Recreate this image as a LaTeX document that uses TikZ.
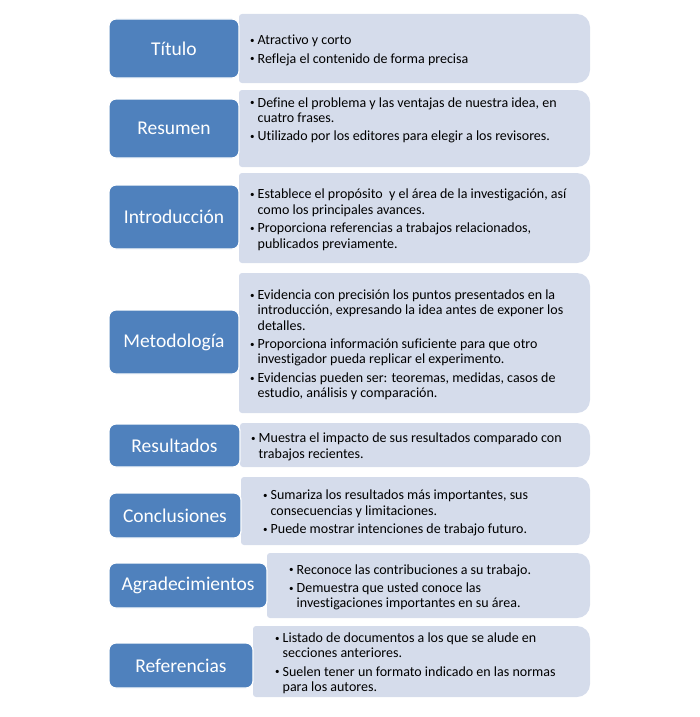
\documentclass[tikz,border=0pt]{standalone}
\usepackage{fontspec}
\setmainfont{Carlito}[Ligatures=NoCommon]
\usetikzlibrary{positioning}
\definecolor{lblblue}{HTML}{4F81BD}
\definecolor{liteblue}{HTML}{D5DCEB}
\newcommand{\bx}{\begin{tabular}{@{}l@{\hspace{3pt}}l@{}}}
\newcommand{\ex}{\end{tabular}}
\newcommand{\bul}{\raisebox{0.2ex}{\fontsize{9}{9}\selectfont\textbullet}}

\begin{document}
\begin{tikzpicture}[x=1pt, y=-1pt,
    lbl/.style={fill=lblblue, draw=white, line width=1.2pt, rounded corners=7pt,
      text=white, font=\fontsize{19.5}{22}\selectfont, inner sep=0pt, minimum width=130pt},
    lite/.style={fill=liteblue},
    txt/.style={anchor=west, inner sep=0pt, align=left, yshift=-2.5pt,
      font=\fontsize{14}{15.4}\selectfont}
  ]
  \useasboundingbox (0,0) rectangle (700,717);

  % Titulo
  \path[lite] (239,83) [rounded corners=3pt] -- (239,14) [rounded corners=13pt] -- (590,14) -- (590,83) [rounded corners=3pt] -- cycle;
  \node[lbl, minimum height=59pt] (tit) at (174,48.5) {Título};
  \node[txt] (titx) at (250,48.5) {\bx
    \bul & Atractivo y corto\\[3pt]
    \bul & Refleja el contenido de forma precisa\ex};

  % Resumen
  \path[lite] (239,167) [rounded corners=3pt] -- (239,90) [rounded corners=13pt] -- (590,90) -- (590,167) [rounded corners=3pt] -- cycle;
  \node[lbl, minimum height=59pt] (res) at (174,128.5) {Resumen};
  \node[txt] (resx) at (250,118.5) {\bx
    \bul & Define el problema y las ventajas de nuestra idea, en\\
    & cuatro frases.\\[3pt]
    \bul & Utilizado por los editores para elegir a los revisores.\ex};

  % Introduccion
  \path[lite] (239,263) [rounded corners=3pt] -- (239,173) [rounded corners=13pt] -- (590,173) -- (590,263) [rounded corners=3pt] -- cycle;
  \node[lbl, minimum height=64pt] (intro) at (174,217) {Introducción};
  \node[txt] (introx) at (250,218) {\bx
    \bul & Establece el propósito\ \ y el área de la investigación, así\\
    & como los principales avances.\\[3pt]
    \bul & Proporciona referencias a trabajos relacionados,\\
    & publicados previamente.\ex};

  % Metodologia
  \path[lite] (239,413) [rounded corners=3pt] -- (239,273) [rounded corners=13pt] -- (590,273) -- (590,413) [rounded corners=3pt] -- cycle;
  \node[lbl, minimum height=64pt] (met) at (174,342) {Metodología};
  \node[txt] (metx) at (250,343) {\bx
    \bul & Evidencia con precisión los puntos presentados en la\\
    & introducción, expresando la idea antes de exponer los\\
    & detalles.\\[3pt]
    \bul & Proporciona información suficiente para que otro\\
    & investigador pueda replicar el experimento.\\[3pt]
    \bul & Evidencias pueden ser: teoremas, medidas, casos de\\
    & estudio, análisis y comparación.\ex};

  % Resultados
  \path[lite] (240,467) [rounded corners=3pt] -- (240,423) [rounded corners=13pt] -- (590,423) -- (590,467) [rounded corners=3pt] -- cycle;
  \node[lbl, minimum width=131pt, minimum height=43pt] (resu) at (174.5,445.5) {Resultados};
  \node[txt] (resux) at (251,445) {\bx
    \bul & Muestra el impacto de sus resultados comparado con\\
    & trabajos recientes.\ex};

  % Conclusiones
  \path[lite] (241,545) [rounded corners=3pt] -- (241,477) [rounded corners=13pt] -- (590,477) -- (590,545) [rounded corners=3pt] -- cycle;
  \node[lbl, minimum width=132pt, minimum height=45pt] (conc) at (175,515.5) {Conclusiones};
  \node[txt] (concx) at (263,511) {\bx
    \bul & Sumariza los resultados más importantes, sus\\
    & consecuencias y limitaciones.\\[3pt]
    \bul & Puede mostrar intenciones de trabajo futuro.\ex};

  % Agradecimientos
  \path[lite] (267,618) [rounded corners=3pt] -- (267,553) [rounded corners=13pt] -- (590,553) -- (590,618) [rounded corners=3pt] -- cycle;
  \node[lbl, minimum width=158pt, minimum height=45pt] (agr) at (188,585.5) {Agradecimientos};
  \node[txt] (agrx) at (289,585.5) {\bx
    \bul & Reconoce las contribuciones a su trabajo.\\[3pt]
    \bul & Demuestra que usted conoce las\\
    & investigaciones importantes en su área.\ex};

  % Referencias
  \path[lite] (253,697) [rounded corners=3pt] -- (253,626) [rounded corners=13pt] -- (590,626) -- (590,697) [rounded corners=3pt] -- cycle;
  \node[lbl, minimum width=144pt, minimum height=45pt] (ref) at (181,665.5) {Referencias};
  \node[txt] (refx) at (275,661.5) {\bx
    \bul & Listado de documentos a los que se alude en\\
    & secciones anteriores.\\[3pt]
    \bul & Suelen tener un formato indicado en las normas\\
    & para los autores.\ex};
\end{tikzpicture}
\end{document}
